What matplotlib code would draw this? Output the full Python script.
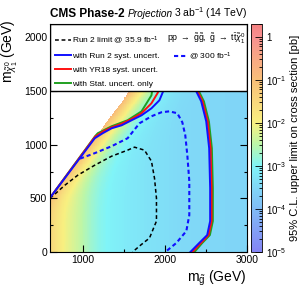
import numpy as np
import matplotlib
matplotlib.use("Agg")
import matplotlib.pyplot as plt
from matplotlib.colors import LinearSegmentedColormap, LogNorm
from matplotlib.patches import Rectangle
from matplotlib.lines import Line2D
from matplotlib.ticker import MultipleLocator, FixedLocator, LogLocator

plt.rcParams['font.family'] = ['Liberation Sans', 'DejaVu Sans']
plt.rcParams['mathtext.fontset'] = 'custom'
plt.rcParams['mathtext.rm'] = 'Liberation Sans'
plt.rcParams['mathtext.it'] = 'Liberation Sans:italic'
plt.rcParams['mathtext.bf'] = 'Liberation Sans:bold'

# --- heat map ingredients ---
# limit far from the diagonal, as function of gluino mass
base_mg = [600, 700, 800, 900, 1000, 1100, 1200, 1400, 1600, 1800, 2000, 2200, 2500, 3000]
base_lim = [0.035, 0.015, 0.008, 0.005, 0.003, 0.0018, 0.0012, 8e-4, 6e-4, 4.8e-4, 4e-4, 3.3e-4, 2.9e-4, 2.8e-4]
# extra limit in the compressed region, as function of mass splitting
comp_dm = [70, 100, 150, 200, 300, 400, 500, 700, 1000]
comp_lim = [0.18, 0.08, 0.035, 0.015, 3.5e-3, 1.1e-3, 4e-4, 8e-5, 1e-5]
# edge of the scanned region
diag_mg = [600, 1570]
diag_mchi = [500, 1500]

# --- contours (gluino mass, neutralino mass) ---
run2_mg = [600, 782, 939, 1145, 1351, 1545, 1630, 1751, 1836, 1873, 1897, 1897, 1812, 1691, 1606]
run2_mchi = [500, 623, 716, 809, 893, 949, 977, 949, 846, 688, 502, 288, 130, 56, 0]

r2syst_mg = [600, 1145, 1242, 1351, 1473, 1594, 1715, 1836, 1933, 1980, 2150, 2382, 2442, 2503, 2539,
             2551, 2551, 2515, 2418, 2310]
r2syst_mchi = [505, 1060, 1107, 1153, 1181, 1228, 1274, 1339, 1414, 1500, 1700, 1497, 1404, 1218, 967,
               595, 288, 158, 84, 0]

yr18_mg = [600, 1150, 1250, 1351, 1473, 1594, 1715, 1836, 1909, 1940, 2150, 2398, 2458, 2520, 2556,
           2568, 2568, 2532, 2438, 2335]
yr18_mchi = [505, 1075, 1125, 1162, 1195, 1240, 1293, 1386, 1479, 1530, 1700, 1497, 1404, 1218, 967,
             595, 288, 158, 84, 0]

stat_mg = [600, 1150, 1182, 1351, 1545, 1715, 1836, 1848, 2150, 2415, 2475, 2536, 2572, 2584, 2584,
           2548, 2455, 2360]
stat_mchi = [505, 1080, 1107, 1172, 1228, 1311, 1460, 1520, 1700, 1497, 1404, 1218, 967, 595, 288,
             158, 84, 0]

lumi300_mg = [965, 1145, 1351, 1545, 1691, 1836, 1957, 2055, 2151, 2212, 2248, 2273, 2297, 2297, 2261,
              2139, 2005]
lumi300_mchi = [870, 921, 986, 1060, 1200, 1265, 1302, 1311, 1293, 1209, 1088, 902, 660, 344, 195, 84, 0]

cbar_ticks = [1e-5, 1e-4, 1e-3, 1e-2, 1e-1, 1]
cbar_labels = [r'$10^{-5}$', r'$10^{-4}$', r'$10^{-3}$', r'$10^{-2}$', r'$10^{-1}$', '1']

# --- build the limit grid ---
mg_edges = np.arange(600, 3001, 8)
mchi_edges = np.arange(0, 2126, 8)
mg_c = 0.5 * (mg_edges[1:] + mg_edges[:-1])
mchi_c = 0.5 * (mchi_edges[1:] + mchi_edges[:-1])
MG, MCHI = np.meshgrid(mg_c, mchi_c)
slope = (diag_mchi[1] - diag_mchi[0]) / (diag_mg[1] - diag_mg[0])
edge = diag_mchi[0] + slope * (MG - diag_mg[0])
dm = MG - MCHI
lim = 10 ** np.interp(MG, base_mg, np.log10(base_lim)) + \
      10 ** np.interp(dm, comp_dm, np.log10(comp_lim))
lim = np.ma.masked_where(MCHI > edge, lim)

cmap = LinearSegmentedColormap.from_list('cms', [
    (0.0, '#8484f4'),
    (1 / 5.3, '#80bcf6'),
    (2 / 5.3, '#80f4f8'),
    (2.5 / 5.3, '#bcf6a8'),
    (3 / 5.3, '#f8f080'),
    (4 / 5.3, '#f8c078'),
    (5 / 5.3, '#f89090'),
    (1.0, '#f48080'),
])

fig = plt.figure(figsize=(3.05, 2.93), dpi=100)
ax = fig.add_axes([50 / 305, 41 / 293, 197 / 305, 228 / 293])
cax = fig.add_axes([251 / 305, 41 / 293, 11 / 305, 228 / 293])

mesh = ax.pcolormesh(mg_edges, mchi_edges, lim, cmap=cmap, norm=LogNorm(1e-5, 2), rasterized=True)

ax.plot(run2_mg, run2_mchi, color='black', lw=1.1, ls=(0, (2.5, 1.8)), zorder=3)
ax.plot(lumi300_mg, lumi300_mchi, color='#1010ff', lw=1.5, ls=(0, (2, 1.4)), zorder=3)
ax.plot(stat_mg, stat_mchi, color='#20a020', lw=1.4, zorder=3)
ax.plot(yr18_mg, yr18_mchi, color='#ff1010', lw=1.4, zorder=3)
ax.plot(r2syst_mg, r2syst_mchi, color='#1010ff', lw=1.4, zorder=3)

ax.set_xlim(600, 3000)
ax.set_ylim(0, 2125)

# legend box on top of the plot
ax.add_patch(Rectangle((600, 1500), 2400, 625, facecolor='white', edgecolor='black', lw=1.0, zorder=4))

handles = [
    Line2D([], [], color='black', lw=1.1, ls=(0, (2.5, 1.8))),
    Line2D([], [], color='#1010ff', lw=1.4),
    Line2D([], [], color='#ff1010', lw=1.4),
    Line2D([], [], color='#20a020', lw=1.4),
]
labels = [r'Run 2 limit @ 35.9 fb$^{-1}$', 'with Run 2 syst. uncert.',
          'with YR18 syst. uncert.', 'with Stat. uncert. only']
leg = ax.legend(handles, labels, loc='upper left', bbox_to_anchor=(0.025, 0.955), frameon=False,
                fontsize=6, handlelength=1.9, handletextpad=0.15, labelspacing=0.72,
                borderpad=0, borderaxespad=0)
leg.set_zorder(5)
ax.add_artist(leg)
leg2 = ax.legend([Line2D([], [], color='#1010ff', lw=1.5, ls=(0, (2, 1.4)))], [r'@ 300 fb$^{-1}$'],
                 loc='upper left', bbox_to_anchor=(0.63, 0.885), frameon=False, fontsize=6,
                 handlelength=1.6, handletextpad=0.15, borderpad=0, borderaxespad=0)
leg2.set_zorder(5)
ax.text(0.995, 0.933,
        r'$\mathrm{pp}\ \rightarrow\ \tilde{\mathrm{g}}\tilde{\mathrm{g}},\ '
        r'\tilde{\mathrm{g}}\ \rightarrow\ \mathrm{t}\bar{\mathrm{t}}\tilde{\chi}^{0}_{1}$',
        transform=ax.transAxes, ha='right', va='center', fontsize=6.3, zorder=6)

# ticks
ax.xaxis.set_major_locator(MultipleLocator(1000))
ax.xaxis.set_minor_locator(MultipleLocator(500))
ax.yaxis.set_major_locator(MultipleLocator(500))
ax.yaxis.set_minor_locator(MultipleLocator(250))
ax.tick_params(which='both', direction='in', top=True, right=True, labelsize=7.5, pad=2)
ax.tick_params(which='major', length=5, width=0.8)
ax.tick_params(which='minor', length=2.5, width=0.8)
for s in ax.spines.values():
    s.set_zorder(6)

ax.set_xlabel(r'm$_{\tilde{\mathrm{g}}}$ (GeV)', fontsize=10, loc='right')
ax.xaxis.set_label_coords(1.0, -0.075)
ax.set_ylabel(r'm$_{\tilde{\chi}^{0}_{1}}$ (GeV)', fontsize=10, loc='top')
ax.yaxis.set_label_coords(-0.15, 1.02)

fig.text(50 / 305, 1 - 17 / 293, 'CMS Phase-2', fontsize=8.5, fontweight='bold', va='baseline')
fig.text(128 / 305, 1 - 17 / 293, 'Projection', fontsize=7.3, style='italic', va='baseline')
fig.text(247 / 305, 1 - 17 / 293, r'3 ab$^{-1}$ (14 TeV)', fontsize=7.5, ha='right', va='baseline')

cb = fig.colorbar(mesh, cax=cax)
cb.outline.set_linewidth(0.6)
cax.yaxis.set_major_locator(FixedLocator(cbar_ticks))
cax.set_yticklabels(cbar_labels)
cax.yaxis.set_minor_locator(LogLocator(base=10, subs=np.arange(2, 10)))
cax.tick_params(which='both', direction='in', labelsize=7, pad=3, width=0.6)
cax.tick_params(which='major', length=5)
cax.tick_params(which='minor', length=2.5)
cb.set_label('95% C.L. upper limit on cross section [pb]', fontsize=8, labelpad=2)

fig.savefig('out.png', dpi=100)
